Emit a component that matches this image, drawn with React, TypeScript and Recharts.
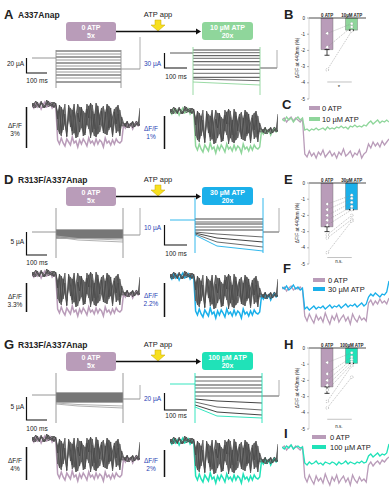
import { Area, Bar, Cell, ComposedChart, ErrorBar, Line, LineChart, XAxis, YAxis } from "recharts";

const FONT = '"Liberation Sans", Arial, Helvetica, sans-serif';

const MAUVE = "#b99cb9";
const GREEN = "#8fd69b";
const BLUE = "#1bb0ea";
const TEAL = "#20e2b8";
const SCALE_BLUE = "#1f3fb4";

// fluorescence sweeps: 14 baseline points, 36 during the step, 10 after
const fluorColoured = [
  47, 44, 49, 45, 48, 43, 47, 50, 45, 46, 49, 44, 47, 45,
  12, 8, 14, 9, 6, 13, 10, 7, 15, 9, 11, 5, 12, 8, 13, 10, 6, 14, 9, 11,
  7, 13, 8, 12, 10, 5, 14, 9, 11, 7, 12, 8, 13, 10, 9, 11,
  27, 24, 29, 25, 28, 23, 27, 30, 26, 28,
];
const fluorGray1 = [
  49, 46, 51, 47, 44, 50, 48, 45, 52, 47, 49, 45, 50, 47,
  40, 18, 45, 22, 38, 15, 47, 25, 42, 19, 36, 48, 20, 44, 16, 39, 27, 46, 14, 41,
  23, 49, 18, 37, 44, 21, 40, 17, 46, 25, 35, 43, 19, 38, 24, 30,
  28, 25, 30, 26, 29, 24, 28, 31, 27, 44,
];
const fluorGray2 = [
  45, 49, 44, 48, 46, 51, 44, 47, 49, 45, 48, 50, 44, 48,
  22, 43, 16, 37, 48, 20, 33, 44, 17, 40, 26, 15, 45, 24, 41, 19, 48, 23, 35, 47,
  16, 31, 42, 20, 27, 46, 18, 43, 22, 38, 15, 29, 45, 21, 42, 26,
  26, 29, 24, 28, 27, 31, 25, 27, 30, 26,
];
const fluorGray3 = [
  48, 44, 47, 50, 45, 49, 46, 44, 48, 51, 46, 48, 45, 49,
  33, 47, 19, 42, 28, 16, 44, 36, 21, 48, 14, 39, 30, 45, 22, 17, 43, 34, 49, 20,
  38, 15, 46, 27, 41, 19, 33, 48, 24, 44, 17, 40, 28, 47, 16, 35,
  29, 26, 31, 24, 27, 30, 25, 29, 26, 28,
];

// averaged traces, 0 ATP vs ATP (10 baseline, 28 step, 10 after)
const cZero = [
  40, 42, 38, 41, 43, 39, 42, 40, 38, 41,
  6, 3, 9, 4, 7, 2, 8, 5, 10, 3, 6, 9, 4, 7, 2, 8, 5, 11, 4, 6, 9, 3, 7, 5, 10, 2, 6, 8,
  16, 12, 18, 14, 17, 13, 19, 15, 18, 21,
];
const cWith = [
  41, 39, 43, 40, 42, 38, 41, 43, 40, 42,
  30, 31, 29, 31, 30, 32, 30, 31, 32, 30, 33, 31, 32, 31, 33, 32, 34, 32, 33, 31, 34, 33, 35, 33, 34, 33, 35, 34,
  37, 39, 36, 38, 40, 37, 39, 38, 40, 38,
];
const fZero = [
  41, 43, 39, 42, 44, 40, 42, 41, 43, 40,
  14, 9, 16, 11, 7, 15, 10, 13, 8, 17, 11, 6, 14, 10, 16, 8, 12, 15, 9, 13, 6, 16, 11, 8, 14, 10, 12, 9,
  27, 30, 25, 29, 26, 31, 27, 29, 26, 32,
];
const fWith = [
  43, 41, 44, 40, 42, 45, 41, 43, 40, 42,
  21, 23, 20, 22, 24, 21, 23, 22, 24, 21, 23, 25, 22, 24, 23, 25, 22, 24, 26, 23, 25, 24, 26, 23, 25, 27, 24, 26,
  33, 36, 34, 37, 35, 33, 36, 35, 38, 49,
];
const iZero = [
  47, 49, 45, 48, 50, 46, 49, 47, 45, 48,
  18, 13, 20, 15, 11, 19, 14, 17, 12, 21, 15, 10, 18, 14, 20, 12, 16, 19, 13, 17, 10, 20, 15, 12, 18, 14, 16, 13,
  30, 33, 29, 32, 34, 31, 35, 33, 36, 38,
];
const iWith = [
  48, 46, 49, 47, 50, 46, 48, 49, 47, 48,
  32, 30, 33, 31, 32, 34, 31, 32, 30, 33, 32, 31, 33, 32, 30, 33, 31, 32, 34, 31, 33, 32, 31, 33, 32, 34, 32, 33,
  39, 41, 38, 40, 42, 39, 41, 40, 42, 51,
];

// current families: step level at start / a third in / end of each sweep
const aLeftSteps = [49, 46, 43, 40, 37, 34, 31, 28, 25, 22, 18];
const aRightStart = [50, 47.3, 44.3, 41.7, 38.3, 35, 30.7, 26.7, 22.7, 21, 18];
const aRightMid = [50, 47.3, 44.3, 41.7, 38.3, 35, 30.7, 26.7, 22.7, 20.5, 17];
const aRightEnd = [50, 47.3, 44.3, 41.7, 38.3, 35, 30.7, 26.7, 22.7, 19.3, 15];
const dLeftStart = [35, 34, 33, 32, 31, 30, 29, 28, 27, 29, 28];
const dLeftMid = [35, 34, 33, 32, 31, 30, 29, 28, 27, 26.5, 25];
const dLeftEnd = [35, 34, 33, 32, 31, 30, 29, 28, 27, 25, 23];
const dRightStart = [46, 43, 41, 38, 35, 33, 32, 31, 30];
const dRightMid = [46, 43, 41, 38, 35, 31, 27, 23, 19];
const dRightEnd = [46, 43, 41, 38, 35, 28, 23, 18, 14];
const gLeftStart = [37, 36, 35, 34, 33, 32, 31, 30, 29, 28, 27, 26];
const gLeftMid = [37, 36, 35, 34, 33, 32, 31, 30, 29, 28, 25.5, 24];
const gLeftEnd = [37, 36, 35, 34, 33, 32, 31, 30, 29, 28, 24, 22];
const gRightStart = [53, 49, 45, 42, 38, 34, 31, 28, 25, 23];
const gRightMid = [53, 49, 45, 42, 38, 34, 29, 23, 18, 14];
const gRightEnd = [53, 49, 45, 42, 38, 34, 27, 20, 15, 12];
// hold, tail, end spike, transient top, transient bottom
const aLeftLevels = [42, 31, 63, 50, 12];
const aRightLevels = [47, 32, 50, 53, 5];
const dLeftLevels = [33, 30, 57, 57, 7];
const dRightLevels = [45, 33, 57, 67, 12];
const gLeftLevels = [35, 31, 45, 57, 7];
const gRightLevels = [46, 34, 50, 57, 7];

// summary bars: ΔF/F at 440 nm (%)
const bZero = [-0.95, -1.8, -3.2];
const bWith = [-0.35, -0.55, -0.8];
const bMeans = [-1.95, -0.75];
const bErr = [0.35, 0];
const eZero = [-1.3, -1.65, -2.0, -2.3, -2.6, -3.2, -3.4, -4.3];
const eWith = [-0.75, -0.95, -1.2, -1.45, -1.65, -2.0, -2.25, -2.35];
const eMeans = [-2.7, -1.65];
const eErr = [0.3, 0];
const hZero = [-0.9, -1.6, -2.0, -2.3, -2.6, -3.3, -3.7];
const hWith = [-0.3, -0.55, -0.7, -0.85, -1.0, -1.1, -1.8];
const hMeans = [-2.4, -0.95];
const hErr = [0.4, 0];
const yTicks = [0, -1, -2, -3, -4, -5];

interface Timing { start: number; on: number; mid: number; off: number; end: number }

function CurrentPanel(props: {
  x: number; y: number; w: number; tm: Timing;
  start: number[]; mid: number[]; end: number[]; levels: number[];
  sweepColour: (i: number, n: number) => string; holdColour: string; tailColour: string; trColour: string;
}) {
  const { tm, start, mid, end, levels } = props;
  const [hold, tail, spike, trTop, trBot] = levels;
  const n = start.length;
  const fill = (vals: (i: number) => number) => {
    const r: Record<string, number> = {};
    start.forEach((_, i) => (r["s" + i] = vals(i)));
    return r;
  };
  const data = [
    { t: tm.start, hd: hold },
    { t: tm.on, hd: hold, tr: trTop },
    { t: tm.on, tr: trBot, ...fill((i) => start[i]) },
    { t: tm.mid, tr: null, ...fill((i) => mid[i]) },
    { t: tm.off, tr: trTop, ...fill((i) => end[i]) },
    { t: tm.off, tr: trBot, tl: tail },
    { t: tm.end, tl: tail, sp: tail },
    { t: tm.end, sp: spike },
  ];
  return (
    <div style={{ position: "absolute", left: props.x, top: props.y }}>
      <LineChart width={props.w} height={70} data={data} margin={{ top: 0, right: 0, bottom: 0, left: 0 }}>
        <XAxis dataKey="t" type="number" domain={[0, props.w]} hide allowDataOverflow />
        <YAxis type="number" domain={[0, 70]} hide allowDataOverflow />
        <Line dataKey="hd" stroke={props.holdColour} strokeWidth={0.9} dot={false} isAnimationActive={false} />
        <Line dataKey="tl" stroke={props.tailColour} strokeWidth={0.9} dot={false} isAnimationActive={false} />
        <Line dataKey="sp" stroke="#999" strokeWidth={0.8} dot={false} isAnimationActive={false} />
        {start.map((_, i) => (
          <Line key={i} dataKey={"s" + i} stroke={props.sweepColour(i, n)} strokeWidth={0.9} dot={false} isAnimationActive={false} />
        ))}
        <Line dataKey="tr" stroke={props.trColour} strokeWidth={0.9} dot={false} isAnimationActive={false} />
      </LineChart>
    </div>
  );
}

function FluorPanel({ x, y, accent }: { x: number; y: number; accent: string }) {
  const data = fluorColoured.map((v, i) => {
    const g = [fluorGray1[i], fluorGray2[i], fluorGray3[i]];
    return { t: i, c: v, g1: g[0], g2: g[1], g3: g[2], band: [Math.min(...g), Math.max(...g)] };
  });
  return (
    <div style={{ position: "absolute", left: x, top: y }}>
      <ComposedChart width={108} height={56} data={data} margin={{ top: 0, right: 0, bottom: 0, left: 0 }}>
        <XAxis dataKey="t" type="number" domain={[0, 59]} hide />
        <YAxis type="number" domain={[0, 56]} hide />
        <Line dataKey="c" stroke={accent} strokeWidth={1.5} dot={false} isAnimationActive={false} />
        <Area dataKey="band" stroke="none" fill="#555" fillOpacity={0.75} isAnimationActive={false} />
        <Line dataKey="g1" stroke="#4d4d4d" strokeWidth={0.8} dot={false} isAnimationActive={false} />
        <Line dataKey="g2" stroke="#5a5a5a" strokeWidth={0.8} dot={false} isAnimationActive={false} />
        <Line dataKey="g3" stroke="#464646" strokeWidth={0.8} dot={false} isAnimationActive={false} />
      </ComposedChart>
    </div>
  );
}

function OverlayPanel({ x, y, zero, withAtp, accent }: { x: number; y: number; zero: number[]; withAtp: number[]; accent: string }) {
  const data = zero.map((v, i) => ({ t: i, z: v, w: withAtp[i] }));
  return (
    <div style={{ position: "absolute", left: x, top: y }}>
      <LineChart width={107} height={60} data={data} margin={{ top: 0, right: 0, bottom: 0, left: 0 }}>
        <XAxis dataKey="t" type="number" domain={[0, 47]} hide />
        <YAxis type="number" domain={[0, 60]} hide />
        <Line dataKey="z" stroke={MAUVE} strokeWidth={1.3} dot={false} isAnimationActive={false} />
        <Line dataKey="w" stroke={accent} strokeWidth={1.3} dot={false} isAnimationActive={false} />
      </LineChart>
    </div>
  );
}

function HeaderTick(p: { x?: number; y?: number; payload?: { value: string } }) {
  return (
    <text x={p.x} y={(p.y ?? 0) - 1.5} textAnchor="middle" fontSize={4.5} fontWeight={700} fill="#222" fontFamily={FONT}>
      {p.payload?.value}
    </text>
  );
}

function PairedBars(props: {
  y: number; zero: number[]; withAtp: number[]; means: number[]; errs: number[]; sig: number; labels: string[]; accent: string;
}) {
  const { zero, withAtp } = props;
  const data = props.labels.map((name, k) => {
    const r: Record<string, unknown> = { name, mean: props.means[k], err: [props.errs[k], 0], sig: props.sig };
    (k === 0 ? zero : withAtp).forEach((v, i) => (r["p" + i] = v));
    return r;
  });
  return (
    <div style={{ position: "absolute", left: 290, top: props.y - 16 }}>
      <ComposedChart width={80} height={101} data={data} margin={{ top: 8, right: 4, bottom: 4, left: 0 }}>
        <XAxis dataKey="name" orientation="top" height={8} interval={0} tickLine={false} tickSize={0} tickMargin={0}
          axisLine={{ stroke: "#222", strokeWidth: 0.8 }} tick={<HeaderTick />} padding={{ left: 6, right: 2 }} />
        <YAxis type="number" domain={[-5, 0]} ticks={yTicks} interval={0} width={19} tickSize={2}
          tick={{ fontSize: 4.5, fill: "#222", fontFamily: FONT }} axisLine={{ stroke: "#aaa", strokeWidth: 0.5 }}
          tickLine={{ stroke: "#666", strokeWidth: 0.5 }} />
        <Bar dataKey="mean" barSize={12} stroke="#666" strokeWidth={0.4} isAnimationActive={false}>
          {data.map((_, k) => (
            <Cell key={k} fill={k === 0 ? MAUVE : props.accent} />
          ))}
          <ErrorBar dataKey="err" width={2.5} stroke="#111" strokeWidth={0.8} direction="y" />
        </Bar>
        <Line dataKey="sig" stroke="#999" strokeWidth={0.6} dot={false} isAnimationActive={false} />
        {zero.map((_, i) => (
          <Line key={i} dataKey={"p" + i} stroke="#888" strokeWidth={0.5} strokeDasharray="1.2 1"
            dot={{ r: 1.4, fill: "#fff", stroke: "#888", strokeWidth: 0.5 }} isAnimationActive={false} />
        ))}
      </ComposedChart>
    </div>
  );
}

const ROWS = [
  {
    dy: 0, letter: "A", name: "A337Anap", accent: GREEN, boxText: "10 µM ATP",
    curL: { tm: { start: 0, on: 24, mid: 46, off: 89, end: 108 }, start: aLeftSteps, mid: aLeftSteps, end: aLeftSteps, levels: aLeftLevels },
    curR: { tm: { start: 2, on: 25, mid: 47, off: 92, end: 109 }, start: aRightStart, mid: aRightMid, end: aRightEnd, levels: aRightLevels },
    scL: [58, 73, "20 µA", 66, 83], scR: [53, 68, "30 µA", 66, 79],
    flL: [107, 148, "3%", 128], flR: [116, 149, "1%", 131], flTop: [96, 102],
    ovTop: 100, ov: [cZero, cWith], ovLetter: ["C", 282, 109], legend: [309, 320, 322, 108, 119],
    bar: { zero: bZero, withAtp: bWith, means: bMeans, errs: bErr, sig: -3.95, label: "10µM ATP", sigText: "*" },
    barLetter: "B",
  },
  {
    dy: 165, letter: "D", name: "R313F/A337Anap", accent: BLUE, boxText: "30 µM ATP",
    curL: { tm: { start: 0, on: 24, mid: 46, off: 91, end: 108 }, start: dLeftStart, mid: dLeftMid, end: dLeftEnd, levels: dLeftLevels },
    curR: { tm: { start: 2, on: 27, mid: 49, off: 95, end: 111 }, start: dRightStart, mid: dRightMid, end: dRightEnd, levels: dRightLevels },
    scL: [67, 90, "5 µA", 79, 100], scR: [60, 80, "10 µA", 65, 91],
    flL: [118, 147, "3.3%", 134], flR: [118, 152, "2.2%", 133], flTop: [100, 102],
    ovTop: 105, ov: [fZero, fWith], ovLetter: ["F", 283, 108], legend: [313, 325, 328, 115, 124],
    bar: { zero: eZero, withAtp: eWith, means: eMeans, errs: eErr, sig: -4.6, label: "30µM ATP", sigText: "n.s." },
    barLetter: "E",
  },
  {
    dy: 330, letter: "G", name: "R313F/A337Anap", accent: TEAL, boxText: "100 µM ATP",
    curL: { tm: { start: 0, on: 24, mid: 46, off: 91, end: 108 }, start: gLeftStart, mid: gLeftMid, end: gLeftEnd, levels: gLeftLevels },
    curR: { tm: { start: 2, on: 27, mid: 49, off: 94, end: 111 }, start: gRightStart, mid: gRightMid, end: gRightEnd, levels: gRightLevels },
    scL: [67, 90, "5 µA", 79, 101], scR: [63, 80, "20 µA", 71, 88],
    flL: [117, 150, "4%", 133], flR: [120, 147, "2%", 133], flTop: [100, 102],
    ovTop: 105, ov: [iZero, iWith], ovLetter: ["I", 284, 108], legend: [312, 326, 330, 107, 117],
    bar: { zero: hZero, withAtp: hWith, means: hMeans, errs: hErr, sig: -4.4, label: "100µM ATP", sigText: "n.s." },
    barLetter: "H",
  },
];

function Annotations() {
  const txt = { fontFamily: FONT, fill: "#222" };
  return (
    <svg width={391} height={500} style={{ position: "absolute", left: 0, top: 0, pointerEvents: "none" }}>
      {ROWS.map((r) => {
        const d = r.dy;
        const [lt, lb, lLab, lY, lMs] = r.scL as [number, number, string, number, number];
        const [rt, rb, rLab, rY, rMs] = r.scR as [number, number, string, number, number];
        const [ft, fb, fPct, fY] = r.flL as [number, number, string, number];
        const [gt, gb, gPct, gY] = r.flR as [number, number, string, number];
        const [sx0, sx1, tx, ly0, ly1] = r.legend;
        const zeroY = d + 18;
        return (
          <g key={r.letter}>
            <text x={4} y={d + 19} fontSize={13} fontWeight={700} {...txt}>{r.letter}</text>
            <text x={18} y={d + 18} fontSize={8.5} fontWeight={700} {...txt}>{r.name}</text>
            <text x={158} y={d + 17} fontSize={7.5} textAnchor="middle" {...txt}>ATP app</text>
            <polygon points={`155,${d + 20} 161,${d + 20} 161,${d + 25} 165,${d + 25} 158,${d + 31} 151,${d + 25} 155,${d + 25}`}
              fill="#f7e01f" stroke="#c7a400" strokeWidth={0.5} />
            <rect x={66} y={d + 22} width={50} height={19} rx={3} fill={MAUVE} />
            <text x={91} y={d + 30} fontSize={7} fontWeight={700} textAnchor="middle" fill="#fff" fontFamily={FONT}>0 ATP</text>
            <text x={91} y={d + 38} fontSize={7} fontWeight={700} textAnchor="middle" fill="#fff" fontFamily={FONT}>5x</text>
            <line x1={116} x2={197} y1={d + 31.5} y2={d + 31.5} stroke="#111" strokeWidth={1.3} />
            <polygon points={`196,${d + 28.5} 201,${d + 31.5} 196,${d + 34.5}`} fill="#111" />
            <rect x={202} y={d + 22} width={51} height={18} rx={3} fill={r.accent} />
            <text x={227.5} y={d + 30} fontSize={7} fontWeight={700} textAnchor="middle" fill="#fff" fontFamily={FONT}>{r.boxText}</text>
            <text x={227.5} y={d + 38} fontSize={7} fontWeight={700} textAnchor="middle" fill="#fff" fontFamily={FONT}>20x</text>

            {/* current scale bars */}
            <polyline points={`26.5,${d + lt} 26.5,${d + lb} 47,${d + lb}`} fill="none" stroke="#111" strokeWidth={1.2} />
            <text x={24} y={d + lY} fontSize={6.5} textAnchor="end" {...txt}>{lLab}</text>
            <text x={37} y={d + lMs} fontSize={6.5} textAnchor="middle" {...txt}>100 ms</text>
            <polyline points={`164.5,${d + rt} 164.5,${d + rb} 187,${d + rb}`} fill="none" stroke="#111" strokeWidth={1.2} />
            <text x={161} y={d + rY} fontSize={6.5} textAnchor="end" fontFamily={FONT} fill={SCALE_BLUE}>{rLab}</text>
            <text x={176} y={d + rMs} fontSize={6.5} textAnchor="middle" {...txt}>100 ms</text>

            {/* fluorescence scale bars */}
            <line x1={26.5} x2={26.5} y1={d + ft} y2={d + fb} stroke="#111" strokeWidth={1.5} />
            <text x={15} y={d + fY} fontSize={6.5} textAnchor="middle" {...txt}>ΔF/F</text>
            <text x={15} y={d + fY + 8} fontSize={6.5} textAnchor="middle" {...txt}>{fPct}</text>
            <line x1={164.5} x2={164.5} y1={d + gt} y2={d + gb} stroke="#111" strokeWidth={1.5} />
            <text x={151} y={d + gY} fontSize={6.5} textAnchor="middle" fontFamily={FONT} fill={SCALE_BLUE}>ΔF/F</text>
            <text x={151} y={d + gY + 8} fontSize={6.5} textAnchor="middle" fontFamily={FONT} fill={SCALE_BLUE}>{gPct}</text>

            {/* bar panel */}
            <text x={284} y={d + 19} fontSize={13} fontWeight={700} {...txt}>{r.barLetter}</text>
            <text x={299} y={zeroY + 40} fontSize={4.8} textAnchor="middle" transform={`rotate(-90 299 ${zeroY + 40})`} {...txt}>
              ΔF/F at 440nm (%)
            </text>
            <text x={339} y={zeroY + (r.bar.sigText === "*" ? 71 : 80)} fontSize={r.bar.sigText === "*" ? 6 : 4.5} textAnchor="middle" {...txt}>
              {r.bar.sigText}
            </text>

            {/* overlay panel */}
            <text x={r.ovLetter[1] as number} y={d + (r.ovLetter[2] as number)} fontSize={13} fontWeight={700} {...txt}>
              {r.ovLetter[0]}
            </text>
            <rect x={sx0} y={d + ly0 - 2} width={sx1 - sx0} height={4} fill={MAUVE} />
            <text x={tx} y={d + ly0 + 3} fontSize={7.5} {...txt}>0 ATP</text>
            <rect x={sx0} y={d + ly1 - 2} width={sx1 - sx0} height={4} fill={r.accent} />
            <text x={tx} y={d + ly1 + 3} fontSize={7.5} {...txt}>{r.boxText}</text>
          </g>
        );
      })}
    </svg>
  );
}

export default function App() {
  return (
    <div style={{ position: "absolute", left: 0, top: 0, width: 391, height: 500, background: "#fff", fontFamily: FONT, overflow: "hidden" }}>
      {ROWS.map((r) => (
        <div key={r.letter}>
          <CurrentPanel x={32} y={r.dy + 30} w={110} {...r.curL}
            sweepColour={(i, n) => (r.dy === 0 ? (i % 2 === 0 ? "#2a2a2a" : "#8c8c8c") : i < n - 2 ? "#3a3a3a" : "#a8a8a8")}
            holdColour="#8a8a8a" tailColour="#8a8a8a" trColour="#8f8f8f" />
          <CurrentPanel x={168} y={r.dy + 30} w={114} {...r.curR}
            sweepColour={(i, n) => (i === n - 1 ? r.accent : i % 2 === 0 ? "#2f2f2f" : "#5a5a5a")}
            holdColour={r.dy === 0 ? "#444" : r.accent} tailColour="#4a4a4a" trColour={r.accent} />
          <FluorPanel x={32} y={r.dy + r.flTop[0]} accent={MAUVE} />
          <FluorPanel x={170} y={r.dy + r.flTop[1]} accent={r.accent} />
          <OverlayPanel x={282} y={r.dy + r.ovTop} zero={r.ov[0]} withAtp={r.ov[1]} accent={r.accent} />
          <PairedBars y={r.dy + 18} zero={r.bar.zero} withAtp={r.bar.withAtp} means={r.bar.means} errs={r.bar.errs}
            sig={r.bar.sig} labels={["0 ATP", r.bar.label]} accent={r.accent} />
        </div>
      ))}
      <Annotations />
    </div>
  );
}
